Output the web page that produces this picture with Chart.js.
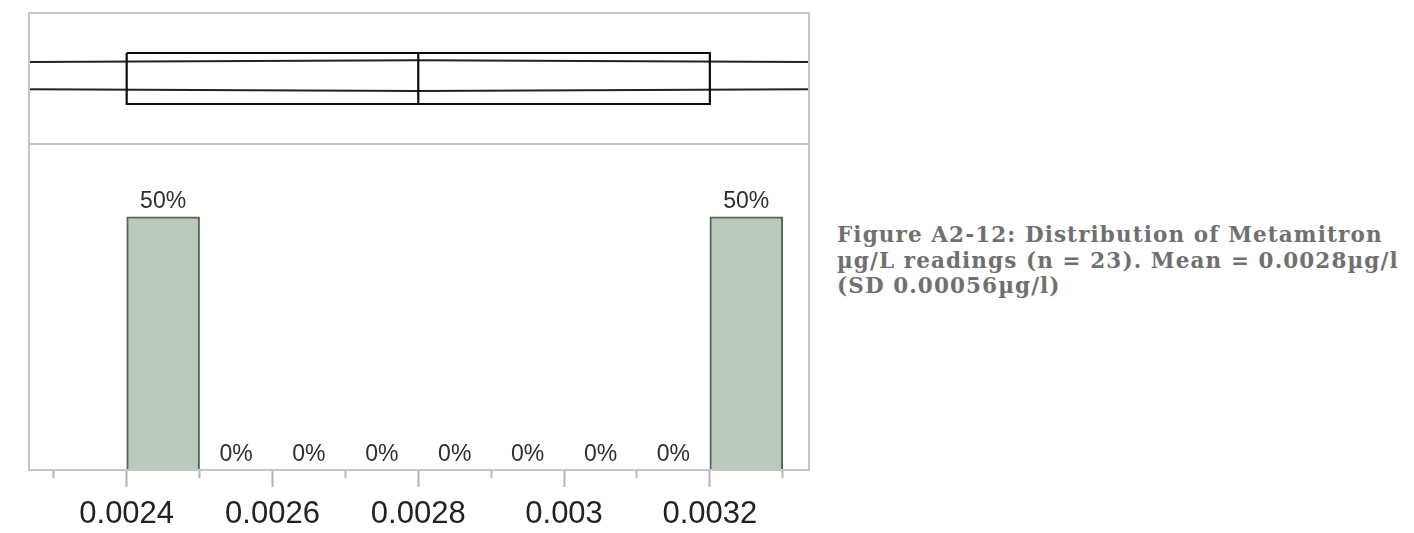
<!DOCTYPE html>
<html>
<head>
<meta charset="utf-8">
<script src="https://cdn.jsdelivr.net/npm/chart.js@4.4.1/dist/chart.umd.min.js"></script>
<style>
  body { margin: 0; background: #fff; width: 1414px; height: 533px; overflow: hidden; position: relative; }
  #wrap { position: absolute; left: 0; top: 0; width: 830px; height: 533px; }
  #caption {
    position: absolute; left: 837px; top: 222px;
    font-family: "DejaVu Serif", serif; font-weight: bold; font-size: 21.5px;
    letter-spacing: 1.1px;
    line-height: 25.5px; color: #707070; white-space: nowrap;
  }
</style>
</head>
<body>
<div id="wrap"><canvas id="histChart"></canvas></div>
<div id="caption">Figure A2-12: Distribution of Metamitron<br>µg/L readings (n = 23). Mean = 0.0028µg/l<br>(SD 0.00056µg/l)</div>
<script>
// histogram bins (centre of each 0.0001 wide bin) and share of readings
const binCenters = [0.00245, 0.00255, 0.00265, 0.00275, 0.00285, 0.00295, 0.00305, 0.00315, 0.00325];
const binPercents = [50, 0, 0, 0, 0, 0, 0, 0, 50];

// x axis ticks
const tickValues = [0.0023, 0.0024, 0.0025, 0.0026, 0.0027, 0.0028, 0.0029, 0.003, 0.0031, 0.0032, 0.0033];
const tickLabels = ['', '0.0024', '', '0.0026', '', '0.0028', '', '0.003', '', '0.0032', ''];
const axisMin = 0.002266;
const axisMax = 0.003336;

// box plot: q1, median, q3
const quartiles = [0.0024, 0.0028, 0.0032];
// mean diamond: lower tip, mean, upper tip
const diamondX = [-0.0020, 0.0028, 0.0076];

const boxHalf = 0.389;
const diamondMid = 0.0435;
const diamondHalf = 0.235;

const boxPoints = [
  {x: quartiles[0], y: boxHalf}, {x: quartiles[2], y: boxHalf},
  {x: quartiles[2], y: -boxHalf}, {x: quartiles[0], y: -boxHalf},
  {x: quartiles[0], y: boxHalf}
];
const medianPoints = [{x: quartiles[1], y: boxHalf}, {x: quartiles[1], y: -boxHalf}];
const diamondTop = [
  {x: diamondX[0], y: diamondMid}, {x: diamondX[1], y: diamondMid + diamondHalf}, {x: diamondX[2], y: diamondMid}
];
const diamondBottom = [
  {x: diamondX[0], y: diamondMid}, {x: diamondX[1], y: diamondMid - diamondHalf}, {x: diamondX[2], y: diamondMid}
];

const lineStyle = {
  type: 'line', xAxisID: 'x', yAxisID: 'yBox', borderColor: '#0d0d0d', borderWidth: 2.2,
  pointRadius: 0, fill: false, tension: 0
};

const framePlugin = {
  id: 'frame',
  afterDatasetsDraw(chart) {
    const ctx = chart.ctx;
    const a = chart.chartArea;
    const yBox = chart.scales.yBox;
    ctx.save();
    ctx.strokeStyle = '#c6c6c6';
    ctx.lineWidth = 2;
    ctx.strokeRect(a.left, a.top, a.right - a.left, a.bottom - a.top);
    ctx.beginPath();
    ctx.moveTo(a.left, yBox.bottom);
    ctx.lineTo(a.right, yBox.bottom);
    ctx.stroke();

    // percent labels above bars
    const meta = chart.getDatasetMeta(0);
    ctx.fillStyle = '#2e2e2e';
    ctx.font = '23px "Liberation Sans", Arial, sans-serif';
    ctx.textAlign = 'center';
    ctx.textBaseline = 'alphabetic';
    meta.data.forEach((bar, i) => {
      ctx.fillText(binPercents[i] + '%', bar.x, bar.y - 9);
    });
    ctx.restore();
  }
};

new Chart(document.getElementById('histChart'), {
  data: {
    datasets: [
      {
        type: 'bar',
        xAxisID: 'x',
        yAxisID: 'y',
        data: binCenters.map((c, i) => ({x: c, y: binPercents[i]})),
        backgroundColor: '#b9cabb',
        borderColor: '#56665a',
        borderWidth: binPercents.map(v => v > 0 ? 2 : 0),
        borderSkipped: 'bottom',
        barPercentage: 1,
        categoryPercentage: 1
      },
      Object.assign({data: boxPoints}, lineStyle),
      Object.assign({data: medianPoints}, lineStyle),
      Object.assign({data: diamondTop}, lineStyle, {borderColor: '#222', borderWidth: 2}),
      Object.assign({data: diamondBottom}, lineStyle, {borderColor: '#222', borderWidth: 2})
    ]
  },
  options: {
    responsive: true,
    maintainAspectRatio: false,
    animation: false,
    layout: { padding: { left: 29, top: 13, right: 21, bottom: 0 } },
    plugins: { legend: { display: false }, tooltip: { enabled: false } },
    scales: {
      x: {
        type: 'linear',
        min: axisMin,
        max: axisMax,
        offset: false,
        afterBuildTicks: (scale) => { scale.ticks = tickValues.map(v => ({value: v})); },
        afterFit: (scale) => { scale.height = 63; },
        border: { display: false },
        grid: {
          offset: false,
          drawOnChartArea: false,
          drawTicks: true,
          tickLength: 17,
          tickWidth: 2,
          tickColor: '#b5b5b5',
          tickBorderDash: (ctx) => (tickLabels[ctx.index] ? [] : [8, 40])
        },
        ticks: {
          autoSkip: false,
          maxRotation: 0,
          padding: 9,
          color: '#222',
          font: { family: '"Liberation Sans", Arial, sans-serif', size: 31 },
          callback: (v, i) => tickLabels[i]
        }
      },
      y: {
        type: 'linear',
        position: 'left',
        stack: 'panels',
        stackWeight: 326,
        min: 0,
        max: 64.4,
        display: false
      },
      yBox: {
        type: 'linear',
        position: 'left',
        stack: 'panels',
        stackWeight: 131,
        min: -1,
        max: 1,
        display: false
      }
    }
  },
  plugins: [framePlugin]
});
</script>
</body>
</html>
